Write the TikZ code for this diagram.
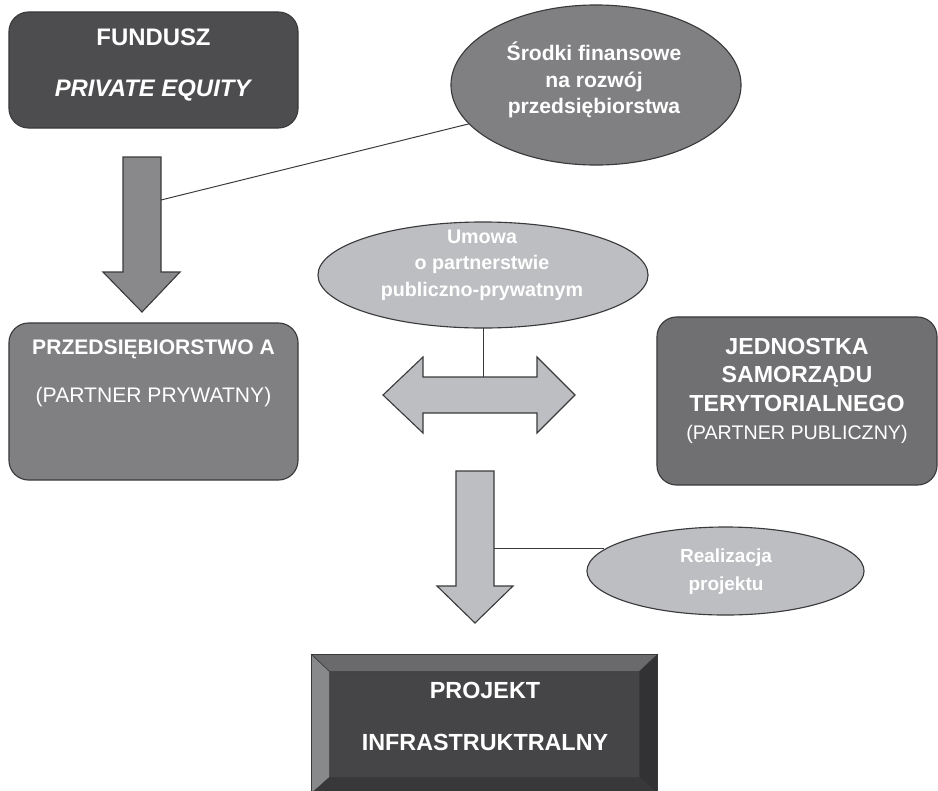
\documentclass[tikz,border=0pt]{standalone}
\usepackage{fontspec}
\setmainfont{Liberation Sans}
\usetikzlibrary{shapes.geometric, calc}

\definecolor{obrys}{HTML}{3A3A3C}
\definecolor{grafit}{HTML}{4D4D4F}
\definecolor{szary}{HTML}{808083}
\definecolor{szaryJ}{HTML}{707073}
\definecolor{szaryS}{HTML}{89898C}
\definecolor{jasny}{HTML}{BDBEC1}
\definecolor{twarz}{HTML}{454547}
\definecolor{fazaG}{HTML}{6A6A6C}
\definecolor{fazaL}{HTML}{88898B}
\definecolor{fazaP}{HTML}{323234}
\definecolor{fazaD}{HTML}{38383A}

\newcommand{\rozm}[2]{\fontsize{#1}{#2}\selectfont}

\tikzset{
  pudlo/.style={draw=obrys, line width=0.8pt, rounded corners=14pt, inner sep=0pt, outer sep=0pt}, % boxes
  owal/.style={ellipse, draw=obrys, line width=0.8pt, inner sep=0pt, outer sep=0pt}, % ellipses
  strzala/.style={draw=obrys, line width=0.8pt, line join=miter}, % block arrows
  linia/.style={draw=obrys, line width=0.7pt}, % thin links
  faza/.style={draw=obrys, line width=0.4pt},
  napis/.style={text=white, align=center, inner sep=0pt},
}

\begin{document}
\begin{tikzpicture}[x=0.025cm, y=-0.025cm]
  \useasboundingbox (0,0) rectangle (938,790);

  % bloki
  \node[pudlo, fill=grafit, minimum width=7.225cm, minimum height=2.9cm] (fundusz) at (153.5,70) {};
  \node[pudlo, fill=szary, minimum width=7.225cm, minimum height=3.925cm] (przeds) at (153.5,401.5) {};
  \node[pudlo, fill=szaryJ, minimum width=7cm, minimum height=4.2cm] (jst) at (797,401) {};

  % owale
  \node[owal, fill=szary, minimum width=7.25cm, minimum height=4cm] (srodki) at (596,85) {};
  \node[owal, fill=jasny, minimum width=8.25cm, minimum height=2.65cm] (umowa) at (483,275) {};
  \node[owal, fill=jasny, minimum width=6.925cm, minimum height=2.2cm] (realiz) at (725.5,571) {};

  % projekt z faza
  \node[fill=twarz, draw=obrys, line width=0.8pt, inner sep=0pt, minimum width=8.625cm, minimum height=3.45cm] (projekt) at (484.5,724) {};
  \node[inner sep=0pt, minimum width=7.725cm, minimum height=2.625cm] (projekt1) at (484.5,724.5) {};
  \filldraw[faza, fill=fazaG] (projekt.north west) -- (projekt.north east) -- (projekt1.north east) -- (projekt1.north west) -- cycle;
  \filldraw[faza, fill=fazaL] (projekt.north west) -- (projekt1.north west) -- (projekt1.south west) -- (projekt.south west) -- cycle;
  \filldraw[faza, fill=fazaP] (projekt.north east) -- (projekt1.north east) -- (projekt1.south east) -- (projekt.south east) -- cycle;
  \filldraw[faza, fill=fazaD] (projekt.south west) -- (projekt1.south west) -- (projekt1.south east) -- (projekt.south east) -- cycle;
  \draw[draw=obrys, line width=0.8pt] (projekt.north west) rectangle (projekt.south east);

  % strzalki blokowe
  \draw[strzala, fill=szaryS] (123,157) -- (161,157) -- (161,272) -- (180,272) -- (142,312) -- (103,272) -- (123,272) -- cycle;
  \draw[strzala, fill=jasny] (383,395) -- (423,357) -- (423,377) -- (537,377) -- (537,357) -- (575,395) -- (537,433) -- (537,413) -- (423,413) -- (423,433) -- cycle;
  \draw[strzala, fill=jasny] (456,471) -- (494,471) -- (494,586) -- (513,586) -- (475,623) -- (437,586) -- (456,586) -- cycle;

  % linie
  \coordinate (s1) at (161,200);
  \coordinate (s2) at (483,377);
  \coordinate (s3) at (494,548);
  \draw[linia] (s1) -- (srodki.197);
  \draw[linia] (umowa.south) -- (s2);
  \draw[linia] (s3) -- (s3 -| realiz.170);

  % napisy
  \node[napis, font=\rozm{17}{35.6}\bfseries] (funduszT) at (153.5,65) {FUNDUSZ\\\textit{PRIVATE EQUITY}};
  \node[napis, font=\rozm{15}{18.9}\bfseries] (srodkiT) at (594,80) {Środki finansowe\\na rozwój\\przedsiębiorstwa};
  \node[napis, font=\rozm{15}{34.1}\bfseries] (przedsT) at (153.5,373) {PRZEDSIĘBIORSTWO A\\{\mdseries (PARTNER PRYWATNY)}};
  \node[napis, font=\rozm{14}{18.9}\bfseries] (umowaT) at (482,265) {Umowa\\o partnerstwie\\publiczno-prywatnym};
  \node[napis, font=\rozm{16.5}{20.1}\bfseries] (jstT) at (797,391) {JEDNOSTKA\\SAMORZĄDU\\TERYTORIALNEGO\\{\mdseries\rozm{14}{20.1}(PARTNER PUBLICZNY)}};
  \node[napis, font=\rozm{13.5}{19.9}\bfseries] (realizT) at (726,572) {Realizacja\\projektu};
  \node[napis, font=\rozm{16.6}{37}\bfseries] (projektT) at (485,716) {PROJEKT\\INFRASTRUKTRALNY};
\end{tikzpicture}
\end{document}
